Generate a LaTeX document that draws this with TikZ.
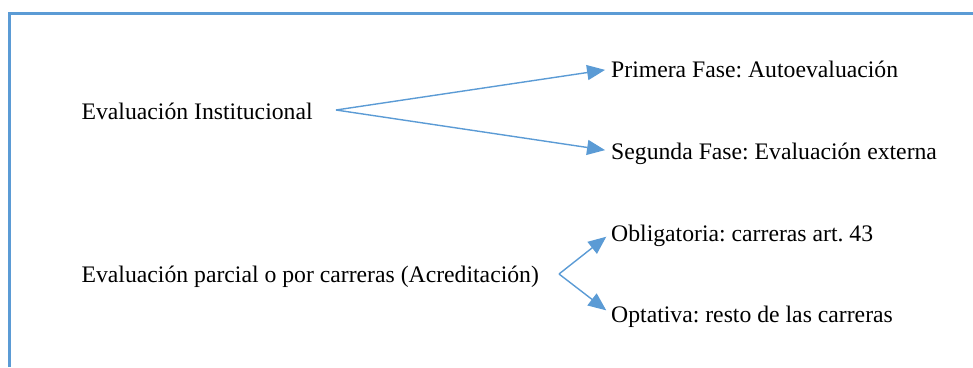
\documentclass[tikz,border=0pt]{standalone}
\usepackage{fontspec}
\setmainfont{Liberation Serif}
\usetikzlibrary{arrows.meta}
\definecolor{wordblue}{HTML}{5B9BD5}
\tikzset{phase/.style={anchor=base west, inner sep=0pt, text height=16pt, text depth=0pt,
    font=\fontsize{23.7}{28}\selectfont}}
\tikzset{branch/.style={draw=wordblue, line width=1.4pt, shorten >=6pt,
    -{Triangle[length=18pt, width=15pt]}, wordblue}}
\frenchspacing

\begin{document}
\begin{tikzpicture}[x=1pt, y=-1pt]
    \useasboundingbox (0, 0) rectangle (973, 367);
    \draw[wordblue, line width=3pt] (9.5, 367) -- (9.5, 13) -- (973, 13);

    \node[phase] (INST) at (81.4, 119) {Evaluación Institucional};
    \node[phase] (PRIM) at (611, 77) {Primera Fase: Autoevaluación};
    \node[phase] (SEG) at (611, 159) {Segunda Fase: Evaluación externa};
    \coordinate (FORK1) at (336, 110);
    \draw[branch] (FORK1) -- (PRIM.west);
    \draw[branch] (FORK1) -- (SEG.west);

    \node[phase] (PARC) at (81.4, 282) {Evaluación parcial o por carreras (Acreditación)};
    \node[phase] (OBL) at (611, 241) {Obligatoria: carreras art. 43};
    \node[phase] (OPT) at (611, 322) {Optativa: resto de las carreras};
    \coordinate (FORK2) at (559, 274);
    \draw[branch] (FORK2) -- (OBL.west);
    \draw[branch] (FORK2) -- (OPT.west);

    % \draw[help lines, step=50] (0,0) grid (973,367);
\end{tikzpicture}
\end{document}
